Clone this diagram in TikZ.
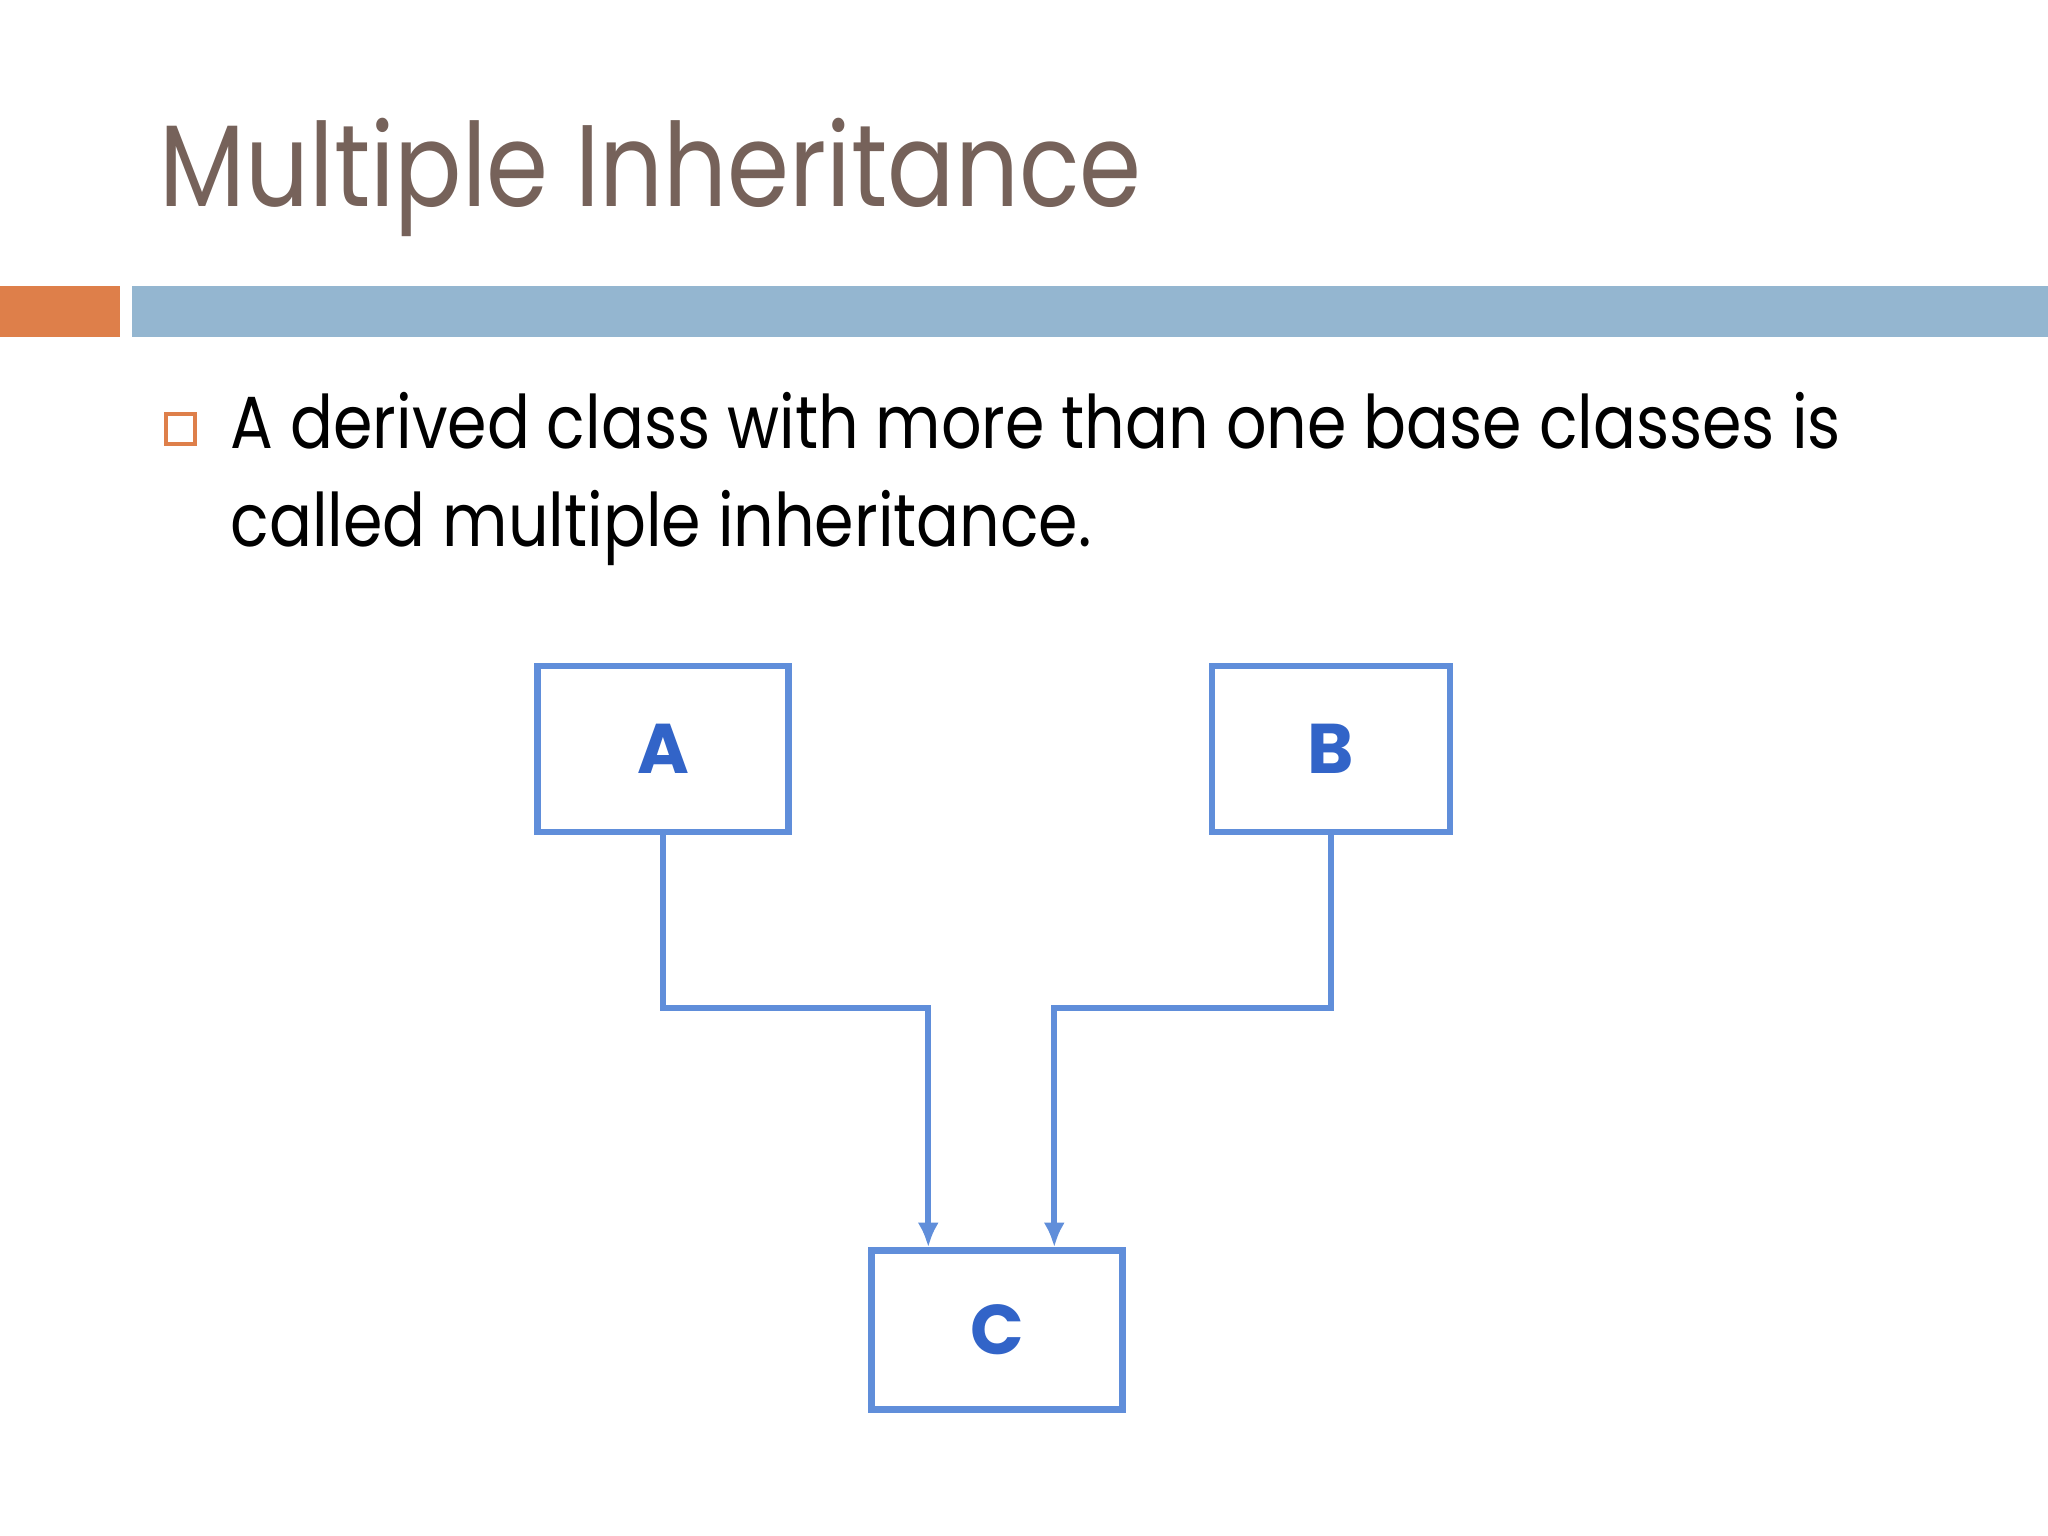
\documentclass[tikz,border=0pt]{standalone}
\usepackage{fontspec}
\setmainfont{Poppins}
\newfontfamily\slidefont[FakeStretch=0.86]{Poppins}
\usetikzlibrary{arrows.meta, positioning, calc}
\definecolor{mybrown}{RGB}{118, 98, 90}
\definecolor{myorange}{RGB}{222, 127, 74}
\definecolor{myblue}{RGB}{148, 182, 208}
\definecolor{mylink}{RGB}{96, 142, 218}
\definecolor{mylabel}{RGB}{50, 100, 200}
\tikzset{
  classbox/.style = {draw=mylink, line width=1.8pt, minimum height=1.66cm, inner sep=0pt,
    font=\fontsize{20}{24}\selectfont\bfseries, text=mylabel},
  link/.style = {draw=mylink, line width=1.8pt, -{Latex[length=7pt, width=6pt]}}
}
\begin{document}
\begin{tikzpicture}[x=0.01cm, y=-0.01cm]
\useasboundingbox (0,0) rectangle (2048,1536);
\fill[white] (0,0) rectangle (2048,1536);
% title and bars
\node[anchor=base west, inner sep=0pt, text=mybrown, font=\slidefont\fontsize{33}{40}\selectfont] (title) at (159,206) {Multiple Inheritance};
\fill[myorange] (0,286) rectangle (120,337);
\fill[myblue] (132,286) rectangle (2048,337);
% bullet text
\draw[myorange, line width=1.2pt] (166,414) rectangle (195,444);
\node[anchor=base west, inner sep=0pt, font=\slidefont\fontsize{21}{26}\selectfont] (line1) at (230,448) {A derived class with more than one base classes is};
\node[anchor=base west, inner sep=0pt, font=\slidefont\fontsize{21}{26}\selectfont] (line2) at (230,546) {called multiple inheritance.};
% classes
\node[classbox, minimum width=2.51cm] (boxA) at (663,749) {A};
\node[classbox, minimum width=2.38cm] (boxB) at (1331,749) {B};
\node[classbox, minimum width=2.51cm, minimum height=1.59cm] (boxC) at (997,1330) {C};
\coordinate (inA) at ($(boxC.north west)+(60,0)$);
\coordinate (inB) at ($(boxC.north west)+(186,0)$);
\draw[link] (boxA.south) |- ($(inA)+(0,-239)$) -- (inA);
\draw[link] (boxB.south) |- ($(inB)+(0,-239)$) -- (inB);
\end{tikzpicture}
\end{document}
